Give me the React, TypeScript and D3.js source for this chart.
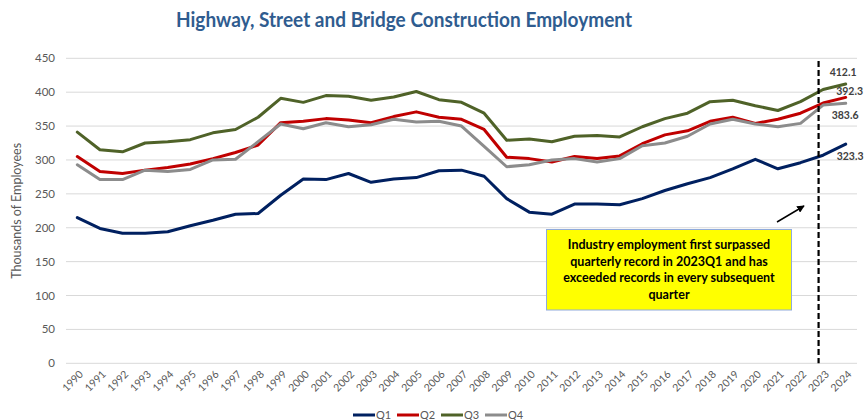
import React from "react";
import * as d3 from "d3";

const years: string[] = Array.from({ length: 35 }, (_, i) => String(1990 + i));
const seriesNames = ["Q1", "Q2", "Q3", "Q4"];
const q1 = [215,199,192,192,194,203,211,220,221,248,272,271,280,267,272,274,284,285,276,243,223,220,235,235,234,243,255,265,274,287,301,287,296,307,323.3];
const q2 = [305,283,280,285,289,294,302,311,322,355,357,361,359,355,364,371,363,360,345,304,302,297,305,302,306,324,337,343,357,363,354,360,369,384,392.3];
const q3 = [341,315,312,325,327,330,340,345,363,391,385,395,394,388,393,401,389,385,369,329,331,327,335,336,334,349,361,369,386,388,380,373,386,404,412.1];
const q4 = [293,271,271,285,283,286,300,301,327,353,346,355,349,352,360,356,357,350,320,290,293,300,302,297,302,321,325,335,353,360,353,349,354,381,383.6];
const seriesValues = [q1, q2, q3, q4];
const colors = ["#002060", "#C00000", "#4F6228", "#8C8C8C"];
const yTicks = [0, 50, 100, 150, 200, 250, 300, 350, 400, 450];
const recordYear = 2022.8;
const title = "Highway, Street and Bridge Construction Employment";
const yLabel = "Thousands of Employees";
const noteLines = [
  "Industry employment first surpassed",
  "quarterly record in 2023Q1 and has",
  "exceeded records in every subsequent",
  "quarter",
];

const FONT = "Lato, 'Open Sans', sans-serif";

export default function App() {
  const W = 865, H = 420;
  const left = 66, right = 857, top = 58.3, bottom = 363.3;
  const x = d3.scalePoint<string>().domain(years).range([left, right]).padding(0.5);
  const y = d3.scaleLinear().domain([0, 450]).range([bottom, top]);
  const xYear = d3.scaleLinear().domain([1990, 2024]).range([x("1990")!, x("2024")!]);
  const line = d3.line<number>().x((_, i) => x(years[i])!).y((d) => y(d));
  const last = years[years.length - 1];
  const labelOffsets = [[-9, 12.6], [-9.5, -5.6], [-16, -11.6], [-14, 11.8]];
  const dashX = xYear(recordYear);

  return (
    <svg width={W} height={H} style={{ position: "absolute", left: 0, top: 0, background: "#fff" }} fontFamily={FONT}>
      <text x={404} y={27} textAnchor="middle" fontSize={20} fontWeight="bold" fill="#2F5C8F" textLength={456} lengthAdjust="spacingAndGlyphs">{title}</text>
      {yTicks.map((t) => (
        <g key={t}>
          <line x1={left} x2={right} y1={y(t)} y2={y(t)} stroke="#D9D9D9" strokeWidth={1} />
          <text x={55} y={y(t)} dy="0.35em" textAnchor="end" fontSize={11.5} fill="#595959">{t}</text>
        </g>
      ))}
      <text transform={`translate(21,${(top + bottom) / 2}) rotate(-90)`} textAnchor="middle" fontSize={12.5} fill="#595959">{yLabel}</text>
      {years.map((yr) => (
        <text key={yr} transform={`translate(${x(yr)! + 4},${bottom + 9}) rotate(-45)`} textAnchor="end" dy="0.35em" fontSize={10.5} fill="#595959">{yr}</text>
      ))}
      {seriesValues.map((vals, si) => (
        <path key={si} d={line(vals) || ""} fill="none" stroke={colors[si]} strokeWidth={3} strokeLinejoin="round" strokeLinecap="round" />
      ))}
      <line x1={dashX} x2={dashX} y1={61} y2={bottom} stroke="#000" strokeWidth={2.2} strokeDasharray="6,3" />
      {seriesValues.map((vals, si) => {
        const v = vals[vals.length - 1];
        const [dx, dy] = labelOffsets[si];
        return (
          <text key={si} x={x(last)! + dx} y={y(v) + dy} dy="0.35em" fontSize={10.5} fontWeight="bold" fill="#404040">{v.toFixed(1)}</text>
        );
      })}
      <defs>
        <marker id="arr" viewBox="0 0 10 10" refX={9} refY={5} markerWidth={5} markerHeight={5} orient="auto">
          <path d="M0,0 L10,5 L0,10 z" fill="#000" />
        </marker>
      </defs>
      <line x1={777} y1={222} x2={804} y2={206} stroke="#000" strokeWidth={1.5} markerEnd="url(#arr)" />
      <rect x={546.5} y={229.5} width={245} height={80.5} fill="#FFFF00" stroke="#8FAADC" strokeWidth={1} />
      {noteLines.map((l, i) => (
        <text key={i} x={669} y={245 + i * 16.5} dy="0.35em" textAnchor="middle" fontSize={12.5} fontWeight="bold" fill="#000">{l}</text>
      ))}
      {seriesNames.map((n, i) => {
        const lx = 353 + i * 44;
        return (
          <g key={n}>
            <line x1={lx} x2={lx + 22} y1={415} y2={415} stroke={colors[i]} strokeWidth={3} />
            <text x={lx + 23} y={415} dy="0.35em" fontSize={11} fill="#595959">{n}</text>
          </g>
        );
      })}
    </svg>
  );
}
